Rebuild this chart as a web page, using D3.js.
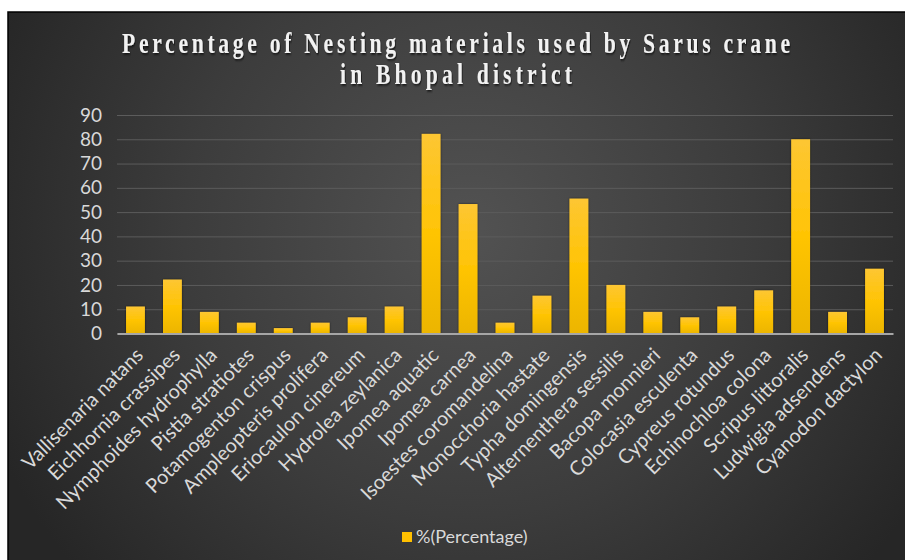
<!DOCTYPE html>
<html>
<head>
<meta charset="utf-8">
<script src="https://cdn.jsdelivr.net/npm/d3@7"></script>
<style>
  html, body { margin: 0; padding: 0; background: #ffffff; }
  svg { display: block; }
</style>
</head>
<body>
<svg id="chart" width="905" height="560"></svg>
<script>
// Nesting plant species and share of nests using each (%)
const species = [
  "Vallisenaria natans", "Eichhornia crassipes", "Nymphoides hydrophylla",
  "Pistia stratiotes", "Potamogenton crispus", "Ampleopteris prolifera",
  "Eriocaulon cinereum", "Hydrolea zeylanica", "Ipomea aquatic",
  "Ipomea carnea", "Isoestes coromandelina", "Monocchoria hastate",
  "Typha domingensis", "Alternenthera sessilis", "Bacopa monnieri",
  "Colocasia esculenta", "Cypreus rotundus", "Echinochloa colona",
  "Scripus littoralis", "Ludwigia adsendens", "Cyanodon dactylon"
];
const percentage = [
  11.11, 22.22, 8.89, 4.44, 2.22, 4.44, 6.67, 11.11, 82.22, 53.33, 4.44,
  15.56, 55.56, 20.0, 8.89, 6.67, 11.11, 17.78, 80.0, 8.89, 26.67
];
const yTicks = [0, 10, 20, 30, 40, 50, 60, 70, 80, 90];
const titleLines = ["Percentage of Nesting materials used by Sarus crane", "in Bhopal district"];
const seriesName = "%(Percentage)";

const svg = d3.select("#chart");
const W = 905, H = 560;
const frame = { x: 8, y: 12 };
const plot = { left: 117, right: 893, top: 115, bottom: 333.5 };

const defs = svg.append("defs");
const bg = defs.append("radialGradient").attr("id", "bgGrad")
  .attr("gradientUnits", "userSpaceOnUse")
  .attr("cx", 470).attr("cy", 230).attr("r", 520);
bg.append("stop").attr("offset", "0%").attr("stop-color", "#525252");
bg.append("stop").attr("offset", "55%").attr("stop-color", "#3c3c3c");
bg.append("stop").attr("offset", "100%").attr("stop-color", "#262626");

const barGrad = defs.append("linearGradient").attr("id", "barGrad")
  .attr("x1", 0).attr("y1", 0).attr("x2", 0).attr("y2", 1);
barGrad.append("stop").attr("offset", "0%").attr("stop-color", "#fdc633");
barGrad.append("stop").attr("offset", "50%").attr("stop-color", "#ffc404");
barGrad.append("stop").attr("offset", "100%").attr("stop-color", "#ecb500");

const shadow = defs.append("filter").attr("id", "barShadow")
  .attr("x", "-30%").attr("y", "-10%").attr("width", "160%").attr("height", "120%");
shadow.append("feDropShadow").attr("dx", 0).attr("dy", 0).attr("stdDeviation", 1.2)
  .attr("flood-color", "#000").attr("flood-opacity", 0.6);

const tShadow = defs.append("filter").attr("id", "titleShadow")
  .attr("x", "-5%").attr("y", "-30%").attr("width", "110%").attr("height", "160%");
tShadow.append("feDropShadow").attr("dx", 1).attr("dy", 1.5).attr("stdDeviation", 1)
  .attr("flood-color", "#000").attr("flood-opacity", 0.7);

// chart background and border
svg.append("rect")
  .attr("x", frame.x).attr("y", frame.y)
  .attr("width", W - frame.x + 2).attr("height", H - frame.y + 2)
  .attr("fill", "url(#bgGrad)")
  .attr("stroke", "#000").attr("stroke-width", 1.5);

// title: condensed bold serif, widened with letter spacing
const squeeze = 0.76;
const title = svg.append("g").attr("filter", "url(#titleShadow)")
  .attr("transform", `translate(456,0) scale(${squeeze},1)`);
const titleWidths = [668, 232];
titleLines.forEach((line, i) => {
  title.append("text")
    .attr("x", 0).attr("y", 53 + i * 31)
    .attr("text-anchor", "middle")
    .attr("font-family", "'Liberation Serif', 'Times New Roman', serif")
    .attr("font-weight", "bold")
    .attr("font-size", 28.5)
    .attr("fill", "#f2f2f2")
    .attr("textLength", titleWidths[i] / squeeze)
    .attr("lengthAdjust", "spacing")
    .text(line);
});

const x = d3.scaleBand()
  .domain(species)
  .range([plot.left, plot.right])
  .paddingInner(0.49).paddingOuter(0.245);

const y = d3.scaleLinear().domain([0, 90]).range([plot.bottom, plot.top]);

// gridlines + y labels
const yAxis = d3.axisLeft(y).tickValues(yTicks)
  .tickSize(-(plot.right - plot.left)).tickPadding(15);
const yg = svg.append("g").attr("transform", `translate(${plot.left},0)`).call(yAxis);
yg.select(".domain").remove();
yg.selectAll(".tick line").attr("stroke", "#5c5c5c").attr("stroke-width", 1);
yg.selectAll(".tick text")
  .attr("fill", "#d9d9d9")
  .attr("font-family", "Lato, 'Open Sans', sans-serif")
  .attr("font-size", 19);

// bars
svg.append("g").selectAll("rect")
  .data(species)
  .join("rect")
  .attr("x", d => x(d))
  .attr("width", x.bandwidth())
  .attr("y", (d, i) => y(percentage[i]))
  .attr("height", (d, i) => y(0) - y(percentage[i]))
  .attr("fill", "url(#barGrad)")
  .attr("filter", "url(#barShadow)");

// category axis
const xAxis = d3.axisBottom(x).tickSize(0).tickPadding(0);
const xg = svg.append("g").attr("transform", `translate(0,${plot.bottom})`).call(xAxis);
xg.select(".domain").attr("stroke", "#a6a6a6").attr("stroke-width", 2);
xg.selectAll(".tick text")
  .attr("fill", "#d9d9d9")
  .attr("font-family", "Lato, 'Open Sans', sans-serif")
  .attr("font-size", 20)
  .attr("text-anchor", "end")
  .attr("dy", "0.35em")
  .attr("y", 0)
  .attr("transform", "translate(4,18) rotate(-45)");

// legend
const legend = svg.append("g").attr("transform", "translate(402,532)");
legend.append("rect").attr("width", 10).attr("height", 10).attr("fill", "#ffc000");
legend.append("text")
  .attr("x", 14).attr("y", 5).attr("dy", "0.36em")
  .attr("fill", "#d9d9d9")
  .attr("font-family", "Lato, 'Open Sans', sans-serif")
  .attr("font-size", 18)
  .text(seriesName);
</script>
</body>
</html>
